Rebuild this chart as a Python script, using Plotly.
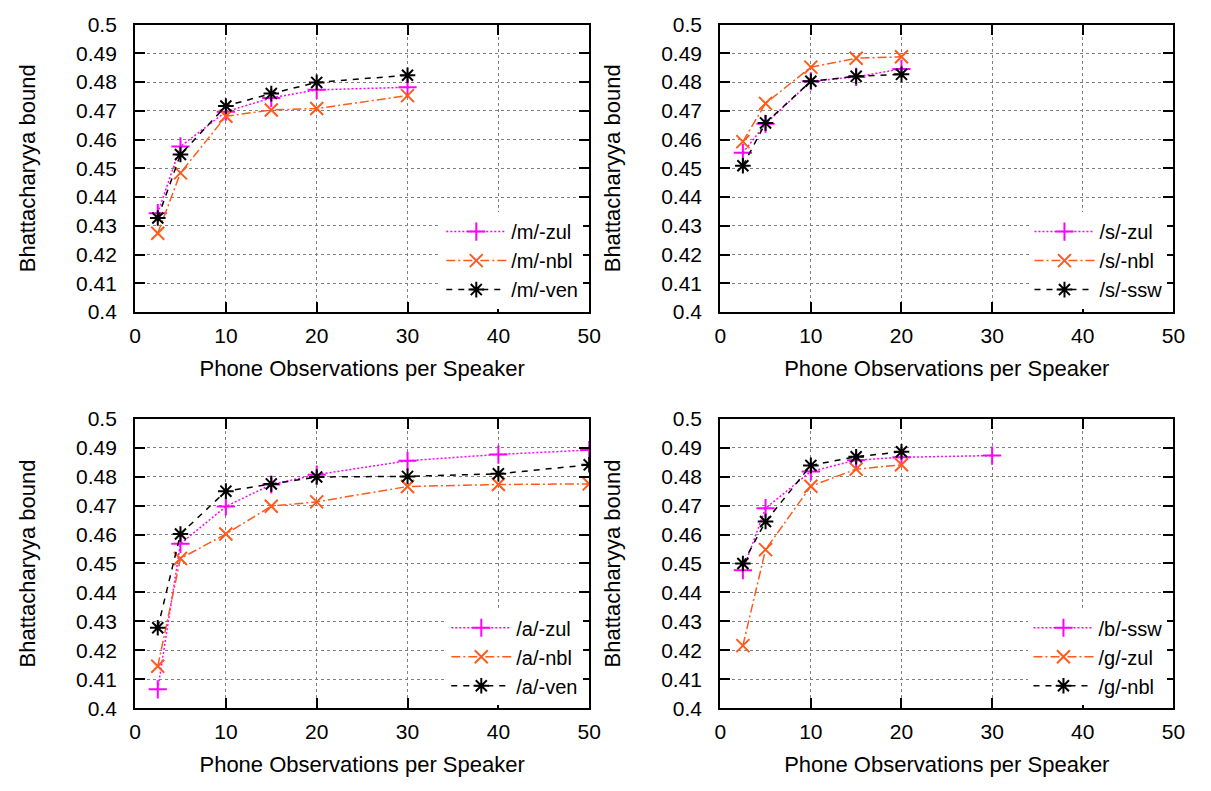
import plotly.graph_objects as go

# ---------------- data ----------------
obs_m = [2.5, 5, 10, 15, 20, 30]
m_zul = [0.4344, 0.4576, 0.4697, 0.4745, 0.4773, 0.4782]
m_nbl = [0.4274, 0.4484, 0.4681, 0.4703, 0.4708, 0.4753]
m_ven = [0.4327, 0.4548, 0.4717, 0.4760, 0.4799, 0.4824]

obs_s = [2.5, 5, 10, 15, 20]
s_zul = [0.4554, 0.4655, 0.4803, 0.4818, 0.4846]
s_nbl = [0.4593, 0.4726, 0.4852, 0.4883, 0.4888]
s_ssw = [0.4509, 0.4658, 0.4803, 0.4820, 0.4827]

obs_a = [2.5, 5, 10, 15, 20, 30, 40, 50]
a_zul = [0.4065, 0.4568, 0.4697, 0.4773, 0.4807, 0.4855, 0.4877, 0.4892]
a_nbl = [0.4145, 0.4517, 0.4602, 0.4698, 0.4713, 0.4766, 0.4773, 0.4775]
a_ven = [0.4278, 0.4602, 0.4750, 0.4775, 0.4799, 0.4801, 0.4810, 0.4841]

obs_b = [2.5, 5, 10, 15, 20, 30]
b_ssw = [0.4477, 0.4691, 0.4818, 0.4857, 0.4867, 0.4873]
obs_g = [2.5, 5, 10, 15, 20]
g_zul = [0.4216, 0.4548, 0.4767, 0.4826, 0.4841]
g_nbl = [0.4500, 0.4645, 0.4839, 0.4869, 0.4886]

y_ticks = [0.4, 0.41, 0.42, 0.43, 0.44, 0.45, 0.46, 0.47, 0.48, 0.49, 0.5]
y_tick_text = ["0.4", "0.41", "0.42", "0.43", "0.44", "0.45", "0.46", "0.47", "0.48", "0.49", "0.5"]
x_ticks = [0, 10, 20, 30, 40, 50]

x_title = "Phone Observations per Speaker"
y_title = "Bhattacharyya bound"

panels = [
    ([(obs_m, m_zul, "/m/-zul"), (obs_m, m_nbl, "/m/-nbl"), (obs_m, m_ven, "/m/-ven")]),
    ([(obs_s, s_zul, "/s/-zul"), (obs_s, s_nbl, "/s/-nbl"), (obs_s, s_ssw, "/s/-ssw")]),
    ([(obs_a, a_zul, "/a/-zul"), (obs_a, a_nbl, "/a/-nbl"), (obs_a, a_ven, "/a/-ven")]),
    ([(obs_b, b_ssw, "/b/-ssw"), (obs_g, g_zul, "/g/-zul"), (obs_g, g_nbl, "/g/-nbl")]),
]

# ---------------- styling ----------------
W, H = 1211, 791
FONT = "Liberation Sans, Arial, sans-serif"
styles = [
    dict(color="#ff00ff", dash="2px,2px", symbol="cross-thin-open"),
    dict(color="#ff5a1a", dash="9px,3px,2px,3px", symbol="x-thin-open"),
    dict(color="#000000", dash="6px,6px", symbol="asterisk-open"),
]

# panel boxes in pixels: (left, right, top, bottom)
boxes = [
    (131, 592, 13, 309),
    (725, 1185, 13, 309),
    (131, 592, 419, 717),
    (725, 1185, 419, 717),
]

fig = go.Figure()
layout = dict(
    width=W, height=H,
    margin=dict(l=0, r=0, t=0, b=0),
    paper_bgcolor="white", plot_bgcolor="white",
    font=dict(family=FONT, size=21, color="black"),
    showlegend=True,
)

for i, (series, box) in enumerate(zip(panels, boxes)):
    n = i + 1
    xa = "x" if n == 1 else f"x{n}"
    ya = "y" if n == 1 else f"y{n}"
    lg = "legend" if n == 1 else f"legend{n}"
    for (xs, ys, name), st in zip(series, styles):
        fig.add_trace(go.Scatter(
            x=xs, y=ys, name=name, mode="lines+markers",
            xaxis=xa, yaxis=ya, legend=lg,
            line=dict(color=st["color"], dash=st["dash"], width=1.5),
            marker=dict(symbol=st["symbol"], size=13, color=st["color"],
                        line=dict(color=st["color"], width=2)),
        ))
    l, r, t, b = box
    axis_common = dict(
        showline=True, linecolor="black", linewidth=2, mirror="ticks",
        ticks="inside", ticklen=10, tickwidth=2, tickcolor="black",
        showgrid=True, gridcolor="#808080", griddash="dot", gridwidth=1,
        zeroline=False, tickfont=dict(family=FONT, size=21, color="black"),
    )
    layout[f"xaxis{'' if n == 1 else n}"] = dict(
        axis_common, domain=[l / W, r / W], anchor=ya, range=[0, 50],
        tickvals=x_ticks, ticklabelstandoff=4,
        title=dict(text=x_title, font=dict(family=FONT, size=22), standoff=14),
    )
    layout[f"yaxis{'' if n == 1 else n}"] = dict(
        axis_common, domain=[1 - b / H, 1 - t / H], anchor=xa, range=[0.4, 0.5],
        tickvals=y_ticks, ticktext=y_tick_text, ticklabelstandoff=12,
        title=dict(text=y_title, font=dict(family=FONT, size=22), standoff=34),
    )
    layout[lg] = dict(
        x=(r - 6) / W, y=1 - (b - 3) / H, xanchor="right", yanchor="bottom",
        xref="paper", yref="paper",
        bgcolor="white", borderwidth=0,
        font=dict(family=FONT, size=20, color="black"),
        itemwidth=60, tracegroupgap=0,
    )

fig.update_layout(**layout)
fig.write_html("out.html", config={"displayModeBar": False},
               post_script="document.body.style.margin='0';document.body.style.overflow='hidden';")
